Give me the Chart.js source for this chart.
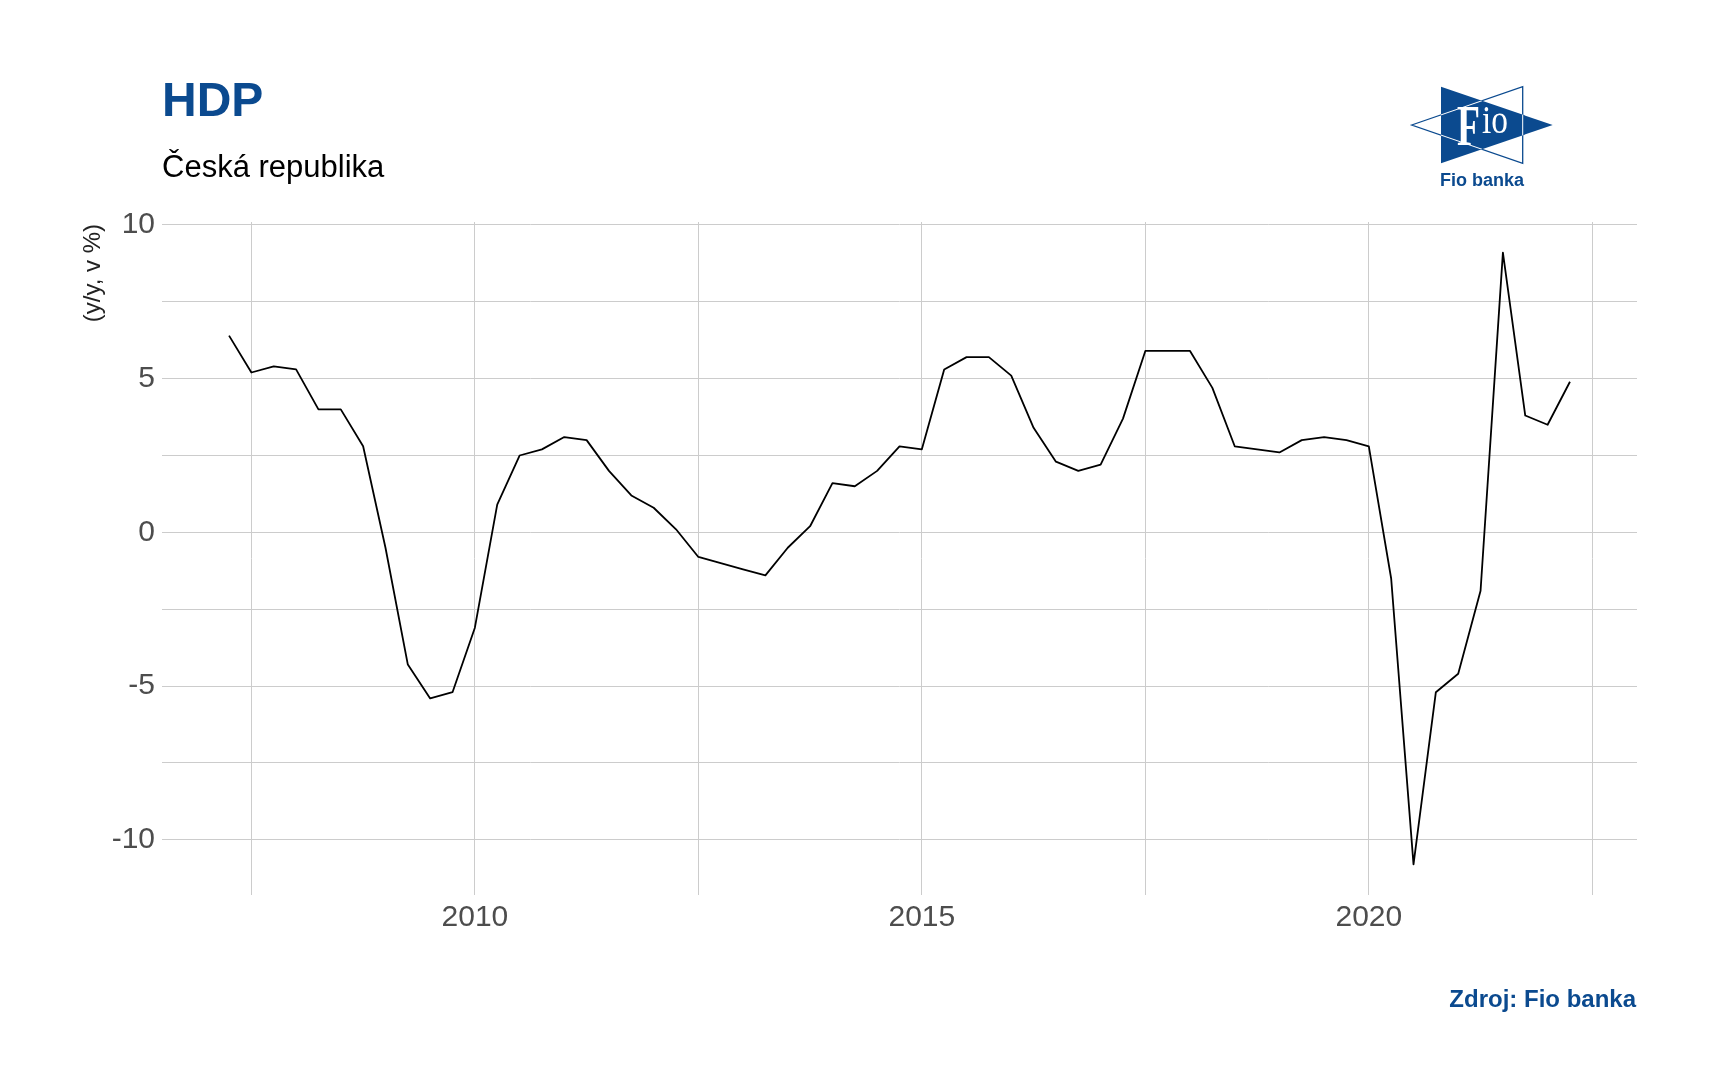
<!DOCTYPE html>
<html>
<head>
<meta charset="utf-8">
<script src="https://cdn.jsdelivr.net/npm/chart.js@4.4.1/dist/chart.umd.min.js"></script>
<style>
  html, body { margin: 0; padding: 0; background: #ffffff; }
  #wrap { position: relative; width: 1716px; height: 1092px; overflow: hidden; background: #fff; }
  #c { position: absolute; left: 0; top: 0; }
  #overlay { position: absolute; left: 0; top: 0; pointer-events: none; }
</style>
</head>
<body>
<div id="wrap">
  <canvas id="c" width="1716" height="1092"></canvas>
  <svg id="overlay" width="1716" height="1092" xmlns="http://www.w3.org/2000/svg">
    <defs>
      <clipPath id="blueTri"><polygon points="1441,86.7 1441,163.3 1552.7,125"/></clipPath>
    </defs>
    <text x="162" y="116" font-family="Liberation Sans, Arial, sans-serif" font-weight="bold" font-size="48" fill="#0b4a8f">HDP</text>
    <text x="162" y="177" font-family="Liberation Sans, Arial, sans-serif" font-size="31" fill="#000000">Česká republika</text>
    <text transform="translate(100,224) rotate(-90)" text-anchor="end" font-family="Liberation Sans, Arial, sans-serif" font-size="24" fill="#222222">(y/y, v %)</text>
    <text x="1636" y="1007" text-anchor="end" font-family="Liberation Sans, Arial, sans-serif" font-weight="bold" font-size="24" fill="#0b4a8f">Zdroj: Fio banka</text>
    <!-- logo -->
    <polygon points="1411.7,125 1522.7,86.7 1522.7,163.3" fill="#ffffff" stroke="#0b4a8f" stroke-width="1.3"/>
    <polygon points="1441,86.7 1441,163.3 1552.7,125" fill="#0b4a8f"/>
    <polygon points="1411.7,125 1522.7,86.7 1522.7,163.3" fill="none" stroke="#ffffff" stroke-width="1" clip-path="url(#blueTri)"/>
    <text x="1457" y="145" font-family="Liberation Serif, Times New Roman, serif" font-weight="bold" font-size="56" fill="#ffffff" textLength="23" lengthAdjust="spacingAndGlyphs">F</text>
    <text x="1482" y="133" font-family="Liberation Serif, Times New Roman, serif" font-size="40" fill="#ffffff" textLength="26" lengthAdjust="spacingAndGlyphs">io</text>
    <text x="1482" y="186" text-anchor="middle" font-family="Liberation Sans, Arial, sans-serif" font-weight="bold" font-size="18" fill="#0b4a8f">Fio banka</text>
  </svg>
</div>
<script>
// ---- data ----
const quarters = [
  2007.25, 2007.5, 2007.75,
  2008.0, 2008.25, 2008.5, 2008.75,
  2009.0, 2009.25, 2009.5, 2009.75,
  2010.0, 2010.25, 2010.5, 2010.75,
  2011.0, 2011.25, 2011.5, 2011.75,
  2012.0, 2012.25, 2012.5, 2012.75,
  2013.0, 2013.25, 2013.5, 2013.75,
  2014.0, 2014.25, 2014.5, 2014.75,
  2015.0, 2015.25, 2015.5, 2015.75,
  2016.0, 2016.25, 2016.5, 2016.75,
  2017.0, 2017.25, 2017.5, 2017.75,
  2018.0, 2018.25, 2018.5, 2018.75,
  2019.0, 2019.25, 2019.5, 2019.75,
  2020.0, 2020.25, 2020.5, 2020.75,
  2021.0, 2021.25, 2021.5, 2021.75,
  2022.0, 2022.25
];
const gdpGrowth = [
  6.4, 5.2, 5.4,
  5.3, 4.0, 4.0, 2.8,
  -0.5, -4.3, -5.4, -5.2,
  -3.1, 0.9, 2.5, 2.7,
  3.1, 3.0, 2.0, 1.2,
  0.8, 0.1, -0.8, -1.0,
  -1.2, -1.4, -0.5, 0.2,
  1.6, 1.5, 2.0, 2.8,
  2.7, 5.3, 5.7, 5.7,
  5.1, 3.4, 2.3, 2.0,
  2.2, 3.7, 5.9, 5.9,
  5.9, 4.7, 2.8, 2.7,
  2.6, 3.0, 3.1, 3.0,
  2.8, -1.5, -10.8, -5.2,
  -4.6, -1.9, 9.1, 3.8,
  3.5, 4.9
];
const xGridValues = [2007.5, 2010, 2012.5, 2015, 2017.5, 2020, 2022.5];
const xTickLabels = [2010, 2015, 2020];
const yGridValues = [-10, -7.5, -5, -2.5, 0, 2.5, 5, 7.5, 10];
const yTickLabels = [-10, -5, 0, 5, 10];

const points = quarters.map((q, i) => ({ x: q, y: gdpGrowth[i] }));
const tickFont = { family: "'Liberation Sans', Arial, sans-serif", size: 30 };

new Chart(document.getElementById('c'), {
  type: 'line',
  data: {
    datasets: [{
      data: points,
      borderColor: '#000000',
      borderWidth: 1.8,
      borderJoinStyle: 'round',
      borderCapStyle: 'butt',
      pointRadius: 0,
      tension: 0,
      fill: false
    }]
  },
  options: {
    responsive: false,
    animation: false,
    devicePixelRatio: 1,
    layout: { padding: { left: 60, right: 79, top: 222, bottom: 100 } },
    plugins: { legend: { display: false }, tooltip: { enabled: false }, title: { display: false } },
    scales: {
      x: {
        type: 'linear',
        min: 2006.5,
        max: 2023,
        border: { display: false },
        grid: { color: '#cccccc', lineWidth: 1, drawTicks: false },
        ticks: {
          font: tickFont,
          color: '#4d4d4d',
          padding: 5,
          maxRotation: 0,
          autoSkip: false,
          callback: (v) => xTickLabels.includes(v) ? String(v) : ''
        },
        afterBuildTicks: (s) => { s.ticks = xGridValues.map(v => ({ value: v })); },
        afterFit: (s) => { s.height = 97; }
      },
      y: {
        type: 'linear',
        min: -11.795,
        max: 10.095,
        border: { display: false },
        grid: { color: '#cccccc', lineWidth: 1, drawTicks: false },
        ticks: {
          font: tickFont,
          color: '#4d4d4d',
          padding: 7,
          autoSkip: false,
          callback: (v) => yTickLabels.includes(v) ? String(v) : ''
        },
        afterBuildTicks: (s) => { s.ticks = yGridValues.map(v => ({ value: v })); },
        afterFit: (s) => { s.width = 102; }
      }
    }
  }
});
</script>
</body>
</html>
